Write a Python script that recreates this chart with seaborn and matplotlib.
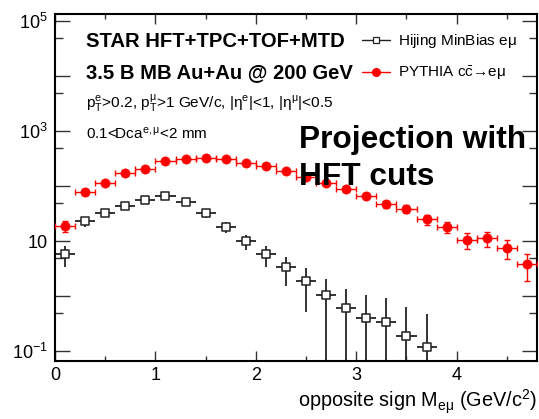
import numpy as np
import pandas as pd
import matplotlib
matplotlib.use("Agg")
import matplotlib.pyplot as plt
import seaborn as sns
from matplotlib.lines import Line2D
from matplotlib.ticker import FixedLocator, NullFormatter

# ---------------- data ----------------
pythia_mass = [0.1, 0.3, 0.5, 0.7, 0.9, 1.1, 1.3, 1.5, 1.7, 1.9, 2.1, 2.3,
               2.5, 2.7, 2.9, 3.1, 3.3, 3.5, 3.7, 3.9, 4.1, 4.3, 4.5, 4.7]
pythia_val = [18.7, 78.8, 115, 172, 207, 285, 310, 327, 310, 262, 231, 187,
              146, 115, 88, 66.7, 47, 38.7, 24.8, 18.2, 10.6, 11.3, 7.5, 3.8]
pythia_err = [4.4, 8.9, 10.7, 13.1, 14.4, 16.9, 17.6, 18.1, 17.6, 16.2, 15.2, 13.7,
              12.1, 10.7, 9.4, 8.2, 6.9, 6.2, 5.0, 4.3, 3.3, 3.4, 2.8, 1.9]

hijing_mass = [0.1, 0.3, 0.5, 0.7, 0.9, 1.1, 1.3, 1.5, 1.7, 1.9, 2.1, 2.3,
               2.5, 2.7, 2.9, 3.1, 3.3, 3.5, 3.7]
hijing_val = [5.8, 22.8, 32.7, 43.3, 55.6, 66.7, 50.6, 31.9, 18.0, 10.0, 5.7, 3.3,
              1.87, 1.03, 0.60, 0.40, 0.33, 0.19, 0.117]
hijing_err = [2.4, 4.8, 5.7, 6.6, 7.5, 8.2, 7.1, 5.6, 4.2, 3.1, 2.3, 1.8,
              1.35, 1.0, 0.75, 0.63, 0.58, 0.45, 0.35]
bin_half_width = 0.1

x_ticks = [0, 1, 2, 3, 4]
y_major = [1e-1, 1, 10, 1e2, 1e3, 1e4, 1e5]
y_major_labels = [r"$10^{-1}$", "", "10", "", r"$10^{3}$", "", r"$10^{5}$"]
y_minor = [0.5, 5, 50, 500, 5000, 50000]

# ---------------- style ----------------
sns.set_style("ticks")
plt.rcParams["font.family"] = ["Liberation Sans", "DejaVu Sans"]
plt.rcParams["mathtext.fontset"] = "custom"
plt.rcParams["mathtext.rm"] = "Liberation Sans"
plt.rcParams["mathtext.it"] = "Liberation Sans:italic"
plt.rcParams["mathtext.bf"] = "Liberation Sans:bold"
plt.rcParams["mathtext.sf"] = "Liberation Sans"
for k in ["text.color", "axes.labelcolor", "xtick.color", "ytick.color",
          "axes.edgecolor"]:
    plt.rcParams[k] = "black"

W, H = 539, 419
fig = plt.figure(figsize=(W / 100, H / 100), dpi=100)
ax = fig.add_axes([55 / W, 1 - 361 / H, (537 - 55) / W, (361 - 14) / H])
ax.set_yscale("log")

df_p = pd.DataFrame({"m": pythia_mass, "v": pythia_val})
df_h = pd.DataFrame({"m": hijing_mass, "v": hijing_val})

# error bars
ax.errorbar(hijing_mass, hijing_val, yerr=hijing_err,
            xerr=bin_half_width, fmt="none", ecolor="#222222",
            elinewidth=1.3, capsize=0, zorder=2)
ax.errorbar(pythia_mass, pythia_val, yerr=pythia_err,
            xerr=bin_half_width, fmt="none", ecolor="#ff0000",
            elinewidth=1.0, capsize=1.9, capthick=1.0, zorder=3)

# markers via seaborn
sns.scatterplot(data=df_h, x="m", y="v", ax=ax, marker="s", s=38,
                facecolor="white", edgecolor="#222222", linewidth=1.1,
                zorder=4, legend=False)
sns.scatterplot(data=df_p, x="m", y="v", ax=ax, marker="o", s=44,
                color="#ff0000", edgecolor="#ff0000", linewidth=0.5,
                zorder=5, legend=False)

ax.set_xlim(0, 4.8)
ax.set_ylim(10 ** (-1 - 10 / 55), 10 ** (5 + 7 / 55))

ax.xaxis.set_major_locator(FixedLocator(x_ticks))
ax.xaxis.set_minor_locator(FixedLocator([0.5, 1.5, 2.5, 3.5, 4.5]))
ax.set_xticklabels([str(t) for t in x_ticks])
ax.yaxis.set_major_locator(FixedLocator(y_major))
ax.yaxis.set_minor_locator(FixedLocator(y_minor))
ax.yaxis.set_minor_formatter(NullFormatter())
ax.set_yticklabels(y_major_labels)

ax.tick_params(which="both", direction="in", top=True, right=True,
               width=1.0, color="#333333", labelcolor="black", labelsize=13)
ax.tick_params(axis="y", which="major", length=10.5, pad=5)
ax.tick_params(axis="y", which="minor", length=5.5)
ax.tick_params(axis="x", which="major", length=7.2, pad=4)
ax.tick_params(axis="x", which="minor", length=3.6)
for sp in ax.spines.values():
    sp.set_linewidth(1.5)
    sp.set_color("black")
    sp.set_visible(True)

ax.set_xlabel(r"opposite sign M$_{\mathregular{e\mu}}$ (GeV/c$^{\mathregular{2}}$)",
              fontsize=14.3, loc="right", labelpad=3)
ax.set_ylabel("")

def fxy(x, y):
    return x / W, 1 - y / H

fig.text(*fxy(86, 46.7), "STAR HFT+TPC+TOF+MTD", fontsize=14.6,
         fontweight="bold", va="baseline", ha="left")
fig.text(*fxy(86, 77.7), "3.5 B MB Au+Au @ 200 GeV", fontsize=14.6,
         fontweight="bold", va="baseline", ha="left")
fig.text(*fxy(86, 108),
         r"$\mathregular{p_T^e}$>0.2, $\mathregular{p_T^{\mu}}$>1 GeV/c, |$\mathregular{\eta^e}$|<1, |$\mathregular{\eta^{\mu}}$|<0.5",
         fontsize=11.1, va="baseline", ha="left")
fig.text(*fxy(86, 139), r"0.1<Dca$^{\mathregular{e,\mu}}$<2 mm",
         fontsize=11.0, va="baseline", ha="left")
fig.text(*fxy(299, 148.3), "Projection with", fontsize=22.8,
         fontweight="bold", va="baseline", ha="left")
fig.text(*fxy(299, 185), "HFT cuts", fontsize=22.8,
         fontweight="bold", va="baseline", ha="left")

handles = [
    Line2D([], [], color="#222222", lw=1.0, marker="s", ms=5,
           mfc="white", mec="#222222", mew=0.9),
    Line2D([], [], color="#ff0000", lw=1.0, marker="o", ms=5.5,
           mfc="#ff0000", mec="#ff0000"),
]
labels = [r"Hijing MinBias e$\mathregular{\mu}$",
          r"PYTHIA c$\mathregular{\bar{c}}$→e$\mathregular{\mu}$"]
fs = 11
fpx = fs * 100 / 72
leg = fig.legend(handles, labels, loc="upper left",
                 bbox_to_anchor=fxy(362, 32), bbox_transform=fig.transFigure,
                 frameon=False, fontsize=fs, borderpad=0, borderaxespad=0,
                 handlelength=28 / fpx, handletextpad=8 / fpx,
                 labelspacing=14 / fpx)

fig.savefig("out.png", dpi=100)
